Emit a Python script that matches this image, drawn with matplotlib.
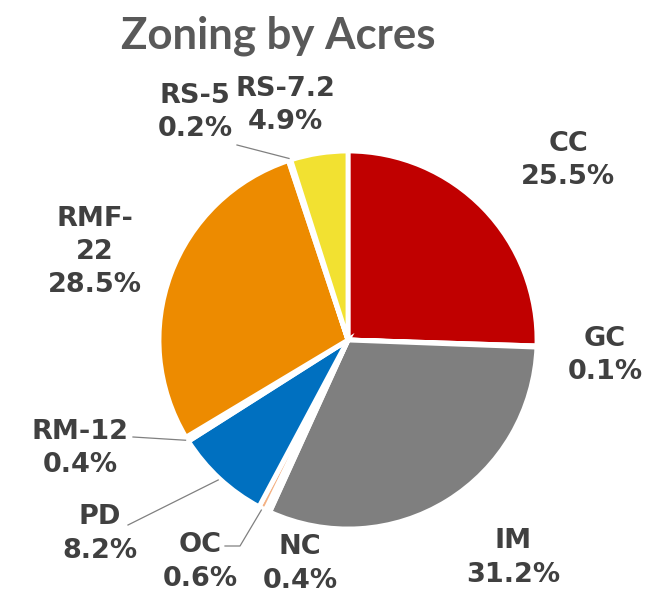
import matplotlib.pyplot as plt
import numpy as np

zones = ['CC', 'GC', 'IM', 'NC', 'OC', 'PD', 'RM-12', 'RMF-22', 'RS-5', 'RS-7.2']
label_text = ['CC', 'GC', 'IM', 'NC', 'OC', 'PD', 'RM-12', 'RMF-\n22', 'RS-5', 'RS-7.2']
acres_pct = [25.5, 0.1, 31.2, 0.4, 0.6, 8.2, 0.4, 28.5, 0.2, 4.9]
colors = ['#C00000', '#A9A9A9', '#7F7F7F', '#C9A227', '#F4B183', '#0070C0',
          '#9DC3E6', '#ED8B00', '#FFC000', '#F2E131']

R = 189
cx, cy = 348, 340
# label centres in pixels of the picture
label_px = [(568, 161), (605, 356), (513, 558), (300, 564), (200, 562),
            (100, 534), (80, 449), (95, 252), (195, 113), (285, 106)]
# leader line start points (pixels)
leader_px = {'RS-5': [(237, 145)], 'RM-12': [(133, 437)], 'PD': [(128, 525)],
             'OC': [(225, 546), (240, 546)]}


def d(p):
    return (p[0] - cx) / R, (cy - p[1]) / R


fig = plt.figure(figsize=(6.58, 5.95), dpi=100)
ax = fig.add_axes([0, 0, 1, 1])

wedges, _ = ax.pie(acres_pct, colors=colors, startangle=90, counterclock=False,
                   wedgeprops=dict(edgecolor='white', linewidth=3.5))
ax.set_aspect('auto')
ax.set_xlim(-cx / R, (658 - cx) / R)
ax.set_ylim(-(595 - cy) / R, cy / R)
ax.axis('off')

for w, name, txt, pct, p in zip(wedges, zones, label_text, acres_pct, label_px):
    lx, ly = d(p)
    ax.text(lx, ly, f'{txt}\n{pct}%', ha='center', va='center', fontsize=19.5,
            fontweight='bold', color='#404040', family='DejaVu Sans', linespacing=1.35)
    if name in leader_px:
        mid = np.deg2rad((w.theta1 + w.theta2) / 2)
        pts = [d(q) for q in leader_px[name]] + [(np.cos(mid) * 1.01, np.sin(mid) * 1.01)]
        xs, ys = zip(*pts)
        ax.plot(xs, ys, color='#808080', lw=0.9)

ax.text(*d((278, 48)), 'Zoning by Acres', ha='center', va='baseline',
        fontsize=31.5, fontweight='bold', color='#595959', family='Lato')

fig.savefig('out.png', dpi=100)
